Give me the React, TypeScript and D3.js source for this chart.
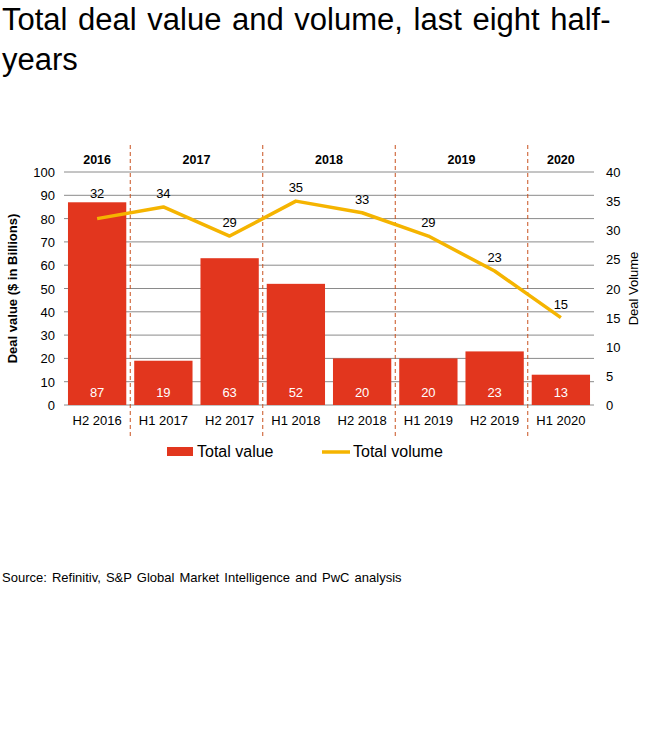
import React from "react";
import * as d3 from "d3";

const categories = ["H2 2016", "H1 2017", "H2 2017", "H1 2018", "H2 2018", "H1 2019", "H2 2019", "H1 2020"];
const totalValue = [87, 19, 63, 52, 20, 20, 23, 13];
const totalVolume = [32, 34, 29, 35, 33, 29, 23, 15];
const years = ["2016", "2017", "2018", "2019", "2020"];
const yearSpans = [[0, 0], [1, 2], [3, 4], [5, 6], [7, 7]];
const dividerAfter = [0, 2, 4, 6];
const leftTicks = [0, 10, 20, 30, 40, 50, 60, 70, 80, 90, 100];
const rightTicks = [0, 5, 10, 15, 20, 25, 30, 35, 40];

const FONT = "Liberation Sans, Arial, sans-serif";
const BAR = "#E2361E";
const LINE = "#F5B400";
const DIV = "#C9521F";

export default function App() {
  const W = 655, H = 739;
  const x0 = 64, x1 = 594, yTop = 172, yBot = 405;
  const x = d3.scaleBand<string>().domain(categories).range([x0, x1]).paddingInner(0.12).paddingOuter(0.06);
  const yL = d3.scaleLinear().domain([0, 100]).range([yBot, yTop]);
  const yR = d3.scaleLinear().domain([0, 40]).range([yBot, yTop]);
  const cx = (c: string) => (x(c) as number) + x.bandwidth() / 2;
  const catStart = (i: number) => x0 + i * (x1 - x0) / categories.length;
  const line = d3.line<number>().x((_, i) => cx(categories[i])).y(d => yR(d));

  return (
    <svg width={W} height={H} style={{ position: "absolute", left: 0, top: 0, fontFamily: FONT }}>
      <rect width={W} height={H} fill="#fff" />
      <text x={2} y={30} fontSize={31} wordSpacing={2} fill="#000">Total deal value and volume, last eight half-</text>
      <text x={2} y={70} fontSize={31} fill="#000">years</text>

      {leftTicks.map(t => (
        <line key={"g" + t} x1={x0} x2={x1} y1={yL(t)} y2={yL(t)} stroke="#8a8a8a" strokeWidth={1} />
      ))}
      {leftTicks.map(t => (
        <text key={"l" + t} x={55} y={yL(t) + 5} fontSize={13} textAnchor="end">{t}</text>
      ))}
      {rightTicks.map(t => (
        <text key={"r" + t} x={606} y={yR(t) + 5} fontSize={13} textAnchor="start">{t}</text>
      ))}

      {categories.map((c, i) => (
        <g key={c}>
          <rect x={x(c)} y={yL(totalValue[i])} width={x.bandwidth()} height={yBot - yL(totalValue[i])} fill={BAR} />
          <text x={cx(c)} y={397} fontSize={13} fill="#fff" textAnchor="middle">{totalValue[i]}</text>
          <text x={cx(c)} y={425} fontSize={13} textAnchor="middle">{c}</text>
        </g>
      ))}

      {dividerAfter.map(i => (
        <line key={"d" + i} x1={catStart(i + 1)} x2={catStart(i + 1)} y1={145} y2={437} stroke={DIV} strokeWidth={1} strokeDasharray="4,3" />
      ))}

      {years.map((yname, k) => {
        const [a, b] = yearSpans[k];
        const mid = (catStart(a) + catStart(b + 1)) / 2;
        return <text key={yname} x={mid} y={164} fontSize={12.5} fontWeight="bold" textAnchor="middle">{yname}</text>;
      })}

      <path d={line(totalVolume) || ""} fill="none" stroke={LINE} strokeWidth={3.5} strokeLinejoin="round" />
      {totalVolume.map((v, i) => {
        const ly = Math.min(yR(v) - 9, yL(totalValue[i]) - 4);
        return <text key={"v" + i} x={cx(categories[i])} y={ly} fontSize={13} textAnchor="middle">{v}</text>;
      })}

      <text transform={`translate(17,${(yTop + yBot) / 2}) rotate(-90)`} fontSize={13} fontWeight="bold" textAnchor="middle">Deal value ($ in Billions)</text>
      <text transform={`translate(638,${(yTop + yBot) / 2}) rotate(-90)`} fontSize={13} textAnchor="middle">Deal Volume</text>

      <rect x={167} y={447} width={26} height={9} fill={BAR} />
      <text x={197} y={457} fontSize={16}>Total value</text>
      <line x1={322} x2={350} y1={452} y2={452} stroke={LINE} strokeWidth={3.5} />
      <text x={353} y={457} fontSize={16}>Total volume</text>

      <text x={2} y={582} fontSize={13} wordSpacing={1.5}>Source: Refinitiv,  S&amp;P Global Market Intelligence and PwC analysis</text>
    </svg>
  );
}
